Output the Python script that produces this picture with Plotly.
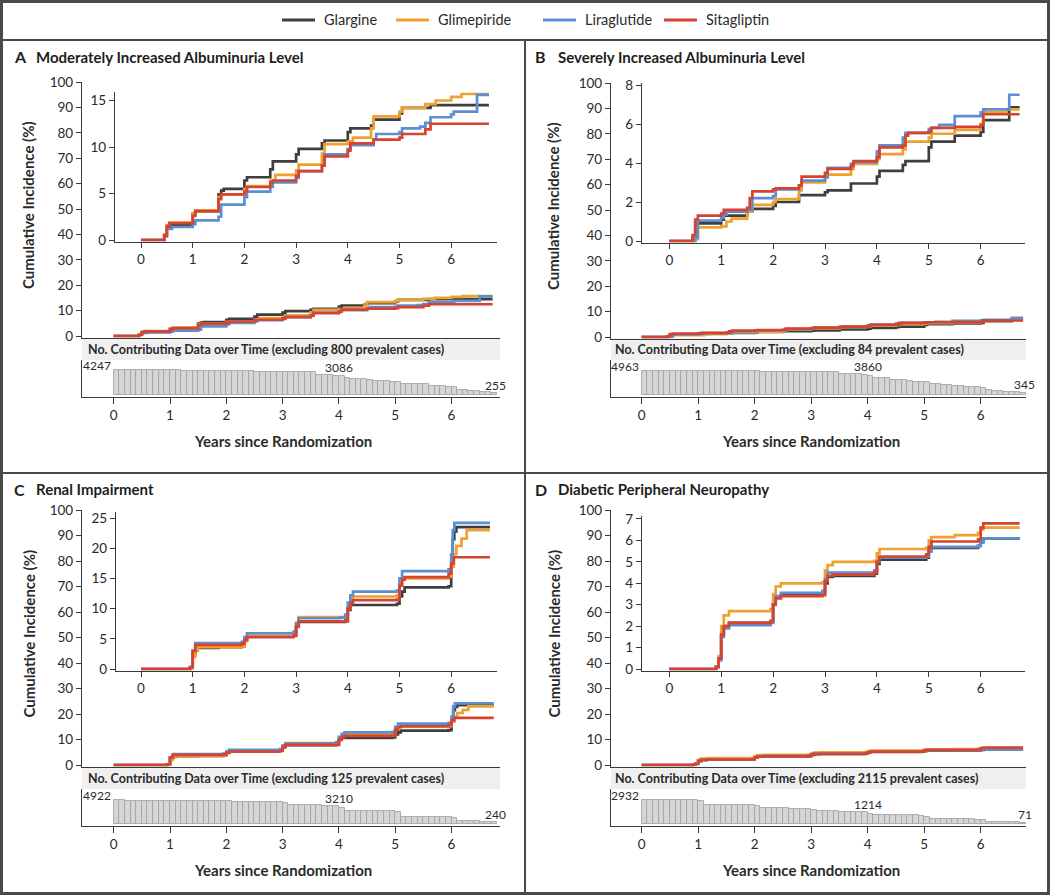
import plotly.graph_objects as go

# ---------------- DATA ----------------
SERIES = ["Glargine", "Glimepiride", "Liraglutide", "Sitagliptin"]
SERIES_COLORS = ["#3e3e3e", "#eea12e", "#5b8fd1", "#d8432f"]

PANEL_KEYS = ["A", "B", "C", "D"]
PANEL_TITLES = [
    "Moderately Increased Albuminuria Level",
    "Severely Increased Albuminuria Level",
    "Renal Impairment",
    "Diabetic Peripheral Neuropathy",
]
PREVALENT_CASES = [800, 84, 125, 2115]

X_TICKS = [0, 1, 2, 3, 4, 5, 6]
MAIN_Y_TICKS = [0, 10, 20, 30, 40, 50, 60, 70, 80, 90, 100]
INSET_Y_TICKS_A = [0, 5, 10, 15]
INSET_Y_TICKS_B = [0, 2, 4, 6, 8]
INSET_Y_TICKS_C = [0, 5, 10, 15, 20, 25]
INSET_Y_TICKS_D = [0, 1, 2, 3, 4, 5, 6, 7]

BAR_YEARS = [0.0, 0.1, 0.2, 0.3, 0.4, 0.5, 0.6, 0.7, 0.8, 0.9,
             1.0, 1.1, 1.2, 1.3, 1.4, 1.5, 1.6, 1.7, 1.8, 1.9,
             2.0, 2.1, 2.2, 2.3, 2.4, 2.5, 2.6, 2.7, 2.8, 2.9,
             3.0, 3.1, 3.2, 3.3, 3.4, 3.5, 3.6, 3.7, 3.8, 3.9,
             4.0, 4.1, 4.2, 4.3, 4.4, 4.5, 4.6, 4.7, 4.8, 4.9,
             5.0, 5.1, 5.2, 5.3, 5.4, 5.5, 5.6, 5.7, 5.8, 5.9,
             6.0, 6.1, 6.2, 6.3, 6.4, 6.5, 6.6, 6.7]

BARS_A = [4247, 4230, 4215, 4200, 4185, 4170, 4155, 4140, 4125, 4110,
          4095, 4080, 4065, 4050, 4035, 4020, 4005, 3990, 3975, 3960,
          3950, 3940, 3930, 3920, 3910, 3900, 3890, 3880, 3870, 3860,
          3850, 3840, 3830, 3820, 3810, 3800, 3350, 3300, 3250, 3200,
          3086, 2750, 2700, 2650, 2600, 2400, 2350, 2300, 2250, 2200,
          2150, 1800, 1780, 1760, 1740, 1720, 1400, 1380, 1360, 1340,
          1280, 800, 780, 600, 580, 450, 430, 255]
BARS_B = [4963, 4950, 4940, 4930, 4920, 4910, 4900, 4890, 4880, 4870,
          4860, 4850, 4840, 4830, 4820, 4810, 4800, 4790, 4780, 4770,
          4760, 4750, 4745, 4740, 4735, 4730, 4725, 4720, 4715, 4710,
          4700, 4690, 4680, 4670, 4660, 4300, 4250, 4200, 4150, 4100,
          3860, 3450, 3400, 3350, 3100, 3050, 3000, 2700, 2650, 2600,
          2550, 2100, 2070, 2040, 2000, 1700, 1660, 1620, 1580, 1540,
          1300, 850, 820, 790, 560, 530, 500, 345]
BARS_C = [4922, 4720, 4715, 4710, 4705, 4700, 4695, 4690, 4685, 4680,
          4660, 4640, 4635, 4630, 4625, 4620, 4615, 4610, 4605, 4600,
          4520, 4400, 4395, 4390, 4385, 4380, 4375, 4370, 4365, 4360,
          4200, 3750, 3740, 3730, 3720, 3710, 3700, 3690, 3680, 3600,
          3210, 2550, 2540, 2530, 2520, 2510, 2500, 2490, 2480, 2470,
          2400, 1350, 1340, 1330, 1320, 1310, 1300, 1290, 1280, 1270,
          1060, 540, 530, 520, 510, 340, 320, 240]
BARS_D = [2932, 2930, 2928, 2926, 2924, 2922, 2920, 2918, 2916, 2914,
          2720, 2320, 2310, 2300, 2290, 2280, 2270, 2260, 2250, 2240,
          2100, 1880, 1870, 1860, 1850, 1840, 1830, 1820, 1810, 1800,
          1650, 1500, 1490, 1480, 1470, 1460, 1450, 1440, 1430, 1420,
          1214, 1050, 1040, 1030, 1020, 1010, 1000, 990, 980, 970,
          830, 560, 550, 540, 530, 520, 510, 500, 490, 480,
          400, 230, 220, 210, 200, 190, 180, 71]

# Panel A: moderately increased albuminuria (cumulative incidence, %)
A_GLARGINE_T = [0, 0.45, 0.5, 0.6, 1.0, 1.05, 1.5, 1.55, 1.6, 2.0, 2.05, 2.5, 2.55, 3.0, 3.05, 3.5, 3.55, 4.0, 4.05, 4.45, 4.5, 5.0, 5.05, 5.6, 6.73]
A_GLARGINE_V = [0, 0.5, 1.4, 1.6, 2.8, 3.1, 4.9, 5.3, 5.5, 6.4, 6.75, 7.6, 8.45, 9.2, 9.8, 10.4, 10.7, 11.6, 12.0, 12.3, 12.95, 13.6, 14.2, 14.5, 14.5]
A_GLIMEPIRIDE_T = [0, 0.45, 0.5, 0.55, 1.0, 1.05, 1.5, 1.55, 2.0, 2.05, 2.5, 2.6, 3.0, 3.05, 3.5, 3.55, 4.0, 4.1, 4.45, 4.5, 5.0, 5.05, 5.5, 5.7, 6.0, 6.2, 6.73]
A_GLIMEPIRIDE_V = [0, 0.6, 1.6, 1.9, 2.9, 3.2, 4.6, 4.9, 5.5, 5.8, 6.4, 7.0, 7.5, 8.1, 9.3, 10.3, 10.6, 11.0, 12.0, 13.3, 13.8, 14.2, 14.6, 15.0, 15.4, 15.7, 15.7]
A_LIRAGLUTIDE_T = [0, 0.45, 0.5, 0.6, 1.0, 1.05, 1.5, 1.55, 2.0, 2.05, 2.5, 2.55, 3.0, 3.05, 3.5, 3.55, 4.0, 4.05, 4.5, 4.55, 5.0, 5.05, 5.4, 5.5, 5.6, 6.0, 6.05, 6.5, 6.73]
A_LIRAGLUTIDE_V = [0, 0.4, 1.2, 1.4, 1.7, 2.1, 2.5, 3.8, 4.6, 5.2, 5.7, 6.2, 6.7, 7.4, 8.0, 9.2, 9.8, 10.2, 10.8, 11.4, 11.6, 12.0, 12.2, 12.6, 13.2, 13.5, 13.8, 15.6, 15.6]
A_SITAGLIPTIN_T = [0, 0.45, 0.5, 0.55, 1.0, 1.05, 1.5, 1.55, 2.0, 2.05, 2.5, 2.55, 3.0, 3.05, 3.5, 3.55, 4.0, 4.05, 4.5, 5.0, 5.05, 5.5, 5.6, 6.73]
A_SITAGLIPTIN_V = [0, 0.5, 1.5, 1.8, 2.6, 3.1, 4.4, 4.9, 5.2, 5.7, 6.2, 6.4, 6.9, 7.4, 8.0, 9.0, 9.6, 10.4, 10.8, 11.0, 11.4, 11.9, 12.5, 12.5]

# Panel B: severely increased albuminuria
B_GLARGINE_T = [0, 0.45, 0.5, 1.0, 1.05, 1.5, 1.6, 2.0, 2.05, 2.5, 3.0, 3.05, 3.5, 4.0, 4.05, 4.5, 4.55, 5.0, 5.05, 5.5, 6.0, 6.05, 6.55, 6.75]
B_GLARGINE_V = [0, 0.2, 0.9, 1.1, 1.3, 1.5, 1.65, 1.8, 2.0, 2.35, 2.5, 2.6, 2.95, 3.3, 3.6, 3.9, 4.1, 4.8, 5.1, 5.4, 5.6, 6.2, 6.85, 6.85]
B_GLIMEPIRIDE_T = [0, 0.5, 0.55, 1.0, 1.1, 1.2, 1.5, 1.6, 2.0, 2.05, 2.5, 2.55, 3.0, 3.05, 3.5, 3.55, 4.0, 4.05, 4.5, 4.55, 5.0, 5.05, 5.5, 6.0, 6.05, 6.5, 6.75]
B_GLIMEPIRIDE_V = [0, 0.1, 0.7, 0.75, 1.0, 1.15, 1.5, 1.85, 2.0, 2.15, 2.6, 3.0, 3.25, 3.4, 3.7, 3.95, 4.2, 4.45, 4.7, 5.1, 5.3, 5.5, 5.7, 6.0, 6.6, 6.75, 6.75]
B_LIRAGLUTIDE_T = [0, 0.5, 0.55, 1.0, 1.05, 1.1, 1.5, 1.6, 2.0, 2.05, 2.5, 2.55, 3.0, 3.05, 3.5, 3.55, 4.0, 4.05, 4.5, 4.55, 5.0, 5.05, 5.2, 5.5, 6.0, 6.05, 6.55, 6.75]
B_LIRAGLUTIDE_V = [0, 0.2, 1.05, 1.2, 1.35, 1.5, 1.6, 2.2, 2.3, 2.65, 2.85, 3.1, 3.3, 3.75, 3.95, 4.05, 4.6, 4.9, 5.3, 5.55, 5.75, 5.8, 5.95, 6.4, 6.6, 6.75, 7.5, 7.5]
B_SITAGLIPTIN_T = [0, 0.45, 0.5, 0.55, 1.0, 1.05, 1.5, 1.55, 1.6, 2.0, 2.05, 2.5, 2.55, 3.0, 3.05, 3.5, 3.55, 4.0, 4.05, 4.5, 4.55, 4.6, 5.0, 5.05, 5.5, 6.0, 6.05, 6.75]
B_SITAGLIPTIN_V = [0, 0.3, 1.1, 1.3, 1.4, 1.6, 1.7, 2.2, 2.55, 2.65, 2.7, 2.85, 3.3, 3.5, 3.7, 3.85, 4.1, 4.3, 4.8, 4.9, 5.4, 5.55, 5.6, 5.8, 5.85, 5.95, 6.5, 6.5]

# Panel C: renal impairment
C_GLARGINE_T = [0, 0.95, 1.0, 1.05, 1.5, 1.95, 2.0, 2.05, 2.95, 3.0, 3.05, 3.95, 4.0, 4.05, 4.95, 5.0, 5.05, 5.1, 5.95, 6.0, 6.03, 6.06, 6.1, 6.75]
C_GLARGINE_V = [0, 0.2, 2.5, 3.5, 3.6, 3.8, 4.8, 5.3, 5.6, 7.0, 7.8, 8.0, 9.8, 10.6, 10.8, 12.0, 12.8, 13.5, 13.7, 17.0, 21.5, 22.8, 23.5, 23.5]
C_GLIMEPIRIDE_T = [0, 0.95, 1.0, 1.05, 1.1, 1.95, 2.0, 2.05, 2.95, 3.0, 3.05, 3.95, 4.0, 4.05, 4.1, 4.95, 5.0, 5.05, 5.95, 6.0, 6.05, 6.1, 6.2, 6.3, 6.75]
C_GLIMEPIRIDE_V = [0, 0.2, 2.0, 3.0, 3.6, 3.8, 4.6, 5.4, 5.6, 7.6, 8.6, 8.7, 10.0, 11.2, 12.0, 12.2, 14.0, 15.0, 15.3, 17.0, 19.0, 20.4, 21.6, 23.0, 23.0]
C_LIRAGLUTIDE_T = [0, 0.95, 1.0, 1.05, 1.95, 2.0, 2.05, 2.95, 3.0, 3.05, 3.85, 3.95, 4.0, 4.05, 4.1, 4.95, 5.0, 5.05, 5.95, 6.0, 6.03, 6.06, 6.75]
C_LIRAGLUTIDE_V = [0, 0.3, 3.0, 4.3, 4.5, 5.3, 5.9, 6.2, 7.6, 8.4, 8.5, 9.0, 11.0, 12.2, 12.8, 13.0, 15.0, 16.2, 16.5, 19.0, 23.0, 24.2, 24.2]
C_SITAGLIPTIN_T = [0, 0.95, 1.0, 1.05, 1.95, 2.0, 2.05, 2.95, 3.0, 3.05, 3.95, 4.0, 4.05, 4.1, 4.95, 5.0, 5.05, 5.1, 5.95, 6.0, 6.05, 6.75]
C_SITAGLIPTIN_V = [0, 0.3, 3.0, 4.0, 4.2, 4.8, 5.3, 5.5, 7.0, 7.9, 7.9, 10.0, 10.9, 11.4, 11.5, 13.8, 14.8, 15.2, 15.8, 17.5, 18.5, 18.5]

# Panel D: diabetic peripheral neuropathy
D_GLARGINE_T = [0, 0.9, 0.95, 1.0, 1.05, 1.15, 1.95, 2.0, 2.05, 2.15, 2.95, 3.0, 3.05, 3.15, 3.95, 4.0, 4.05, 4.95, 5.0, 5.05, 5.95, 6.0, 6.05, 6.75]
D_GLARGINE_V = [0, 0.1, 0.5, 1.6, 2.0, 2.15, 2.2, 3.0, 3.35, 3.45, 3.5, 4.0, 4.3, 4.35, 4.45, 4.9, 5.1, 5.2, 5.5, 5.65, 5.75, 5.95, 6.1, 6.1]
D_GLIMEPIRIDE_T = [0, 0.9, 0.95, 1.0, 1.05, 1.15, 1.95, 2.0, 2.05, 2.15, 2.95, 3.0, 3.05, 3.15, 3.95, 4.0, 4.05, 4.95, 5.0, 5.05, 5.5, 5.95, 6.0, 6.05, 6.75]
D_GLIMEPIRIDE_V = [0, 0.1, 0.6, 2.0, 2.5, 2.7, 2.8, 3.5, 3.85, 4.0, 4.05, 4.6, 4.85, 5.0, 5.05, 5.4, 5.6, 5.65, 6.0, 6.15, 6.25, 6.35, 6.5, 6.6, 6.6]
D_LIRAGLUTIDE_T = [0, 0.9, 0.95, 1.0, 1.05, 1.15, 1.95, 2.0, 2.05, 2.15, 2.95, 3.0, 3.05, 3.95, 4.0, 4.05, 4.95, 5.0, 5.05, 5.95, 6.0, 6.05, 6.75]
D_LIRAGLUTIDE_V = [0, 0.1, 0.4, 1.5, 1.9, 2.05, 2.15, 3.0, 3.4, 3.55, 3.65, 4.2, 4.5, 4.6, 5.0, 5.2, 5.25, 5.5, 5.7, 5.75, 5.9, 6.1, 6.1]
D_SITAGLIPTIN_T = [0, 0.9, 0.95, 1.0, 1.05, 1.15, 1.95, 2.0, 2.05, 2.15, 2.95, 3.0, 3.05, 3.15, 3.95, 4.0, 4.05, 4.95, 5.0, 5.05, 5.95, 6.0, 6.05, 6.75]
D_SITAGLIPTIN_V = [0, 0.1, 0.5, 1.6, 2.0, 2.15, 2.25, 3.0, 3.3, 3.4, 3.45, 4.1, 4.35, 4.4, 4.5, 5.0, 5.25, 5.35, 5.7, 5.95, 6.05, 6.6, 6.8, 6.8]

CURVES = {
    "A": [(A_GLARGINE_T, A_GLARGINE_V), (A_GLIMEPIRIDE_T, A_GLIMEPIRIDE_V),
          (A_LIRAGLUTIDE_T, A_LIRAGLUTIDE_V), (A_SITAGLIPTIN_T, A_SITAGLIPTIN_V)],
    "B": [(B_GLARGINE_T, B_GLARGINE_V), (B_GLIMEPIRIDE_T, B_GLIMEPIRIDE_V),
          (B_LIRAGLUTIDE_T, B_LIRAGLUTIDE_V), (B_SITAGLIPTIN_T, B_SITAGLIPTIN_V)],
    "C": [(C_GLARGINE_T, C_GLARGINE_V), (C_GLIMEPIRIDE_T, C_GLIMEPIRIDE_V),
          (C_LIRAGLUTIDE_T, C_LIRAGLUTIDE_V), (C_SITAGLIPTIN_T, C_SITAGLIPTIN_V)],
    "D": [(D_GLARGINE_T, D_GLARGINE_V), (D_GLIMEPIRIDE_T, D_GLIMEPIRIDE_V),
          (D_LIRAGLUTIDE_T, D_LIRAGLUTIDE_V), (D_SITAGLIPTIN_T, D_SITAGLIPTIN_V)],
}
BARS = {"A": BARS_A, "B": BARS_B, "C": BARS_C, "D": BARS_D}
INSET_TICKS = {"A": INSET_Y_TICKS_A, "B": INSET_Y_TICKS_B, "C": INSET_Y_TICKS_C, "D": INSET_Y_TICKS_D}

# ---------------- LAYOUT GEOMETRY (pixels) ----------------
W, H = 1050, 895
FONT = "Lato, 'Open Sans', sans-serif"
AX_COLOR = "#3a3a3a"
TXT = "#2a2a2a"
LEGEND_LINE_X = [282, 396, 543, 664]   # left end of each legend line sample
LEGEND_Y = 20

GEOM = {
    "A": dict(left=82, right=500, x0=113.7, sx=56.3, mtop=82, mbot=336,
              ileft=115, iright=497, ix0=141, isx=51.7, itop=92, ibot=240, ipx=9.3,
              band_top=336, band_bot=360, baxis=397, bbase=394.5, bref=25,
              letter_x=12, title_x=34, title_y=57, ytitle_x=28, xtitle_x=283, xtitle_y=441, band_x=86),
    "B": dict(left=611, right=1026, x0=641.7, sx=56.5, mtop=83, mbot=337,
              ileft=642, iright=1025, ix0=669.3, isx=51.9, itop=83, ibot=241, ipx=19.5,
              band_top=337, band_bot=360, baxis=397, bbase=394.5, bref=24,
              letter_x=533, title_x=556, title_y=57, ytitle_x=553, xtitle_x=811, xtitle_y=441, band_x=613),
    "C": dict(left=82, right=500, x0=113.7, sx=56.3, mtop=510, mbot=765,
              ileft=116, iright=497, ix0=141, isx=51.7, itop=512, ibot=669, ipx=6.04,
              band_top=765, band_bot=789, baxis=826, bbase=823.5, bref=24,
              letter_x=12, title_x=34, title_y=489, ytitle_x=28, xtitle_x=283, xtitle_y=870, band_x=86),
    "D": dict(left=611, right=1026, x0=641.7, sx=56.5, mtop=510, mbot=765,
              ileft=642, iright=1025, ix0=669.3, isx=51.9, itop=516, ibot=669, ipx=21.43,
              band_top=765, band_bot=789, baxis=826, bbase=823.5, bref=24,
              letter_x=533, title_x=556, title_y=489, ytitle_x=553, xtitle_x=811, xtitle_y=870, band_x=613),
}


def xp(px):
    return px / W


def yp(py):
    return 1 - py / H


fig = go.Figure()
layout = {}
annotations = []
shapes = []

axis_common = dict(showgrid=False, zeroline=False, linecolor=AX_COLOR, linewidth=1.3,
                   tickcolor=AX_COLOR, tickwidth=1.2, layer="below traces",
                   tickfont=dict(family=FONT, size=13.5, color=TXT))


def axname(c, n):
    return f"{c}axis" if n == 1 else f"{c}axis{n}"


for i, key in enumerate(PANEL_KEYS):
    g = GEOM[key]
    n_main, n_in, n_bar = 3 * i + 1, 3 * i + 2, 3 * i + 3

    # main axes
    mscale = (g["mbot"] - g["mtop"]) / 100.0
    layout[axname("x", n_main)] = dict(
        axis_common, domain=[xp(g["left"]), xp(g["right"])],
        range=[(g["left"] - g["x0"]) / g["sx"], (g["right"] - g["x0"]) / g["sx"]],
        anchor=f"y{n_main}", showline=True, ticks="", showticklabels=False)
    layout[axname("y", n_main)] = dict(
        axis_common, domain=[yp(g["mbot"] + 1.5), yp(g["mtop"])],
        range=[-1.5 / mscale, 100], anchor=f"x{n_main}", showline=True,
        ticks="outside", ticklen=5, tickvals=MAIN_Y_TICKS)

    # inset axes
    layout[axname("x", n_in)] = dict(
        axis_common, domain=[xp(g["ileft"]), xp(g["iright"])],
        range=[(g["ileft"] - g["ix0"]) / g["isx"], (g["iright"] - g["ix0"]) / g["isx"]],
        anchor=f"y{n_in}", showline=True, ticks="outside", ticklen=5, tickvals=X_TICKS)
    layout[axname("y", n_in)] = dict(
        axis_common, domain=[yp(g["ibot"] + 1.5), yp(g["itop"])],
        range=[-1.5 / g["ipx"], (g["ibot"] - g["itop"]) / g["ipx"]],
        anchor=f"x{n_in}", showline=True, ticks="outside", ticklen=5,
        tickvals=INSET_TICKS[key])

    # bar axes
    bars = BARS[key]
    k = bars[0] / g["bref"]
    layout[axname("x", n_bar)] = dict(
        axis_common, domain=[xp(g["left"]), xp(g["right"])],
        range=[(g["left"] - g["x0"]) / g["sx"], (g["right"] - g["x0"]) / g["sx"]],
        anchor=f"y{n_bar}", showline=True, ticks="outside", ticklen=6, tickvals=X_TICKS)
    layout[axname("y", n_bar)] = dict(
        axis_common, domain=[yp(g["baxis"]), yp(g["band_bot"])],
        range=[-(g["baxis"] - g["bbase"]) * k, (g["bbase"] - g["band_bot"]) * k],
        anchor=f"x{n_bar}", showline=True, ticks="", showticklabels=False)

    # curves (main and inset)
    for s, (name, color) in enumerate(zip(SERIES, SERIES_COLORS)):
        t, v = CURVES[key][s]
        for n in (n_main, n_in):
            fig.add_trace(go.Scatter(
                x=t, y=v, mode="lines", name=name, legendgroup=name, showlegend=False,
                line=dict(color=color, width=2.7, shape="hv"),
                xaxis=f"x{n}", yaxis=f"y{n}", hoverinfo="skip"))

    # bars of contributing data
    fig.add_trace(go.Bar(
        x=BAR_YEARS, y=bars, width=0.1, offset=0, showlegend=False,
        marker=dict(color="#d6d6d8", line=dict(color="#a4a4a6", width=0.9)),
        xaxis=f"x{n_bar}", yaxis=f"y{n_bar}", hoverinfo="skip"))

    # grey label band
    shapes.append(dict(type="rect", xref="paper", yref="paper", layer="below",
                       x0=xp(g["left"]), x1=xp(g["right"]),
                       y0=yp(g["band_bot"]), y1=yp(g["band_top"] + 1.5),
                       fillcolor="#efeff0", line=dict(width=0)))
    annotations.append(dict(
        xref="paper", yref="paper", x=xp(g["band_x"]),
        y=yp((g["band_top"] + g["band_bot"]) / 2 + 1), xanchor="left", yanchor="middle",
        showarrow=False,
        text=f"<b>No. Contributing Data over Time (excluding {PREVALENT_CASES[i]} prevalent cases)</b>",
        font=dict(family=FONT, size=12.5, color=TXT)))

    # bar value labels
    bx, by = f"x{n_bar}", f"y{n_bar}"
    annotations.append(dict(xref=bx, yref=by, x=BAR_YEARS[0], y=bars[0], xanchor="right",
                            yanchor="middle", yshift=4, xshift=-1, showarrow=False,
                            text=str(bars[0]), font=dict(family=FONT, size=12, color=TXT)))
    annotations.append(dict(xref=bx, yref=by, x=BAR_YEARS[40], y=bars[40], xanchor="center",
                            yanchor="middle", yshift=9, showarrow=False,
                            text=str(bars[40]), font=dict(family=FONT, size=12, color=TXT)))
    annotations.append(dict(xref=bx, yref=by, x=BAR_YEARS[-1] + 0.08, y=bars[-1], xanchor="center",
                            yanchor="middle", yshift=8, showarrow=False,
                            text=str(bars[-1]), font=dict(family=FONT, size=12, color=TXT)))

    # titles
    annotations.append(dict(xref="paper", yref="paper", x=xp(g["letter_x"]), y=yp(g["title_y"]),
                            xanchor="left", yanchor="middle", showarrow=False, text=f"<b>{key}</b>",
                            font=dict(family=FONT, size=16, color="#1e1e1e")))
    annotations.append(dict(xref="paper", yref="paper", x=xp(g["title_x"]), y=yp(g["title_y"]),
                            xanchor="left", yanchor="middle", showarrow=False,
                            text=f"<b>{PANEL_TITLES[i]}</b>",
                            font=dict(family=FONT, size=15, color="#1e1e1e")))
    annotations.append(dict(xref="paper", yref="paper", x=xp(g["ytitle_x"]),
                            y=yp((g["mtop"] + g["mbot"]) / 2 - 4), textangle=-90,
                            xanchor="center", yanchor="middle", showarrow=False,
                            text="<b>Cumulative Incidence (%)</b>",
                            font=dict(family=FONT, size=15, color=TXT)))
    annotations.append(dict(xref="paper", yref="paper", x=xp(g["xtitle_x"]), y=yp(g["xtitle_y"]),
                            xanchor="center", yanchor="middle", showarrow=False,
                            text="<b>Years since Randomization</b>",
                            font=dict(family=FONT, size=15, color=TXT)))

# legend (drawn as line samples + labels)
for name, color, lx in zip(SERIES, SERIES_COLORS, LEGEND_LINE_X):
    shapes.append(dict(type="line", xref="paper", yref="paper", x0=xp(lx), x1=xp(lx + 33),
                       y0=yp(LEGEND_Y), y1=yp(LEGEND_Y), line=dict(color=color, width=2.8)))
    annotations.append(dict(xref="paper", yref="paper", x=xp(lx + 40), y=yp(LEGEND_Y),
                            xanchor="left", yanchor="middle", showarrow=False, text=name,
                            font=dict(family=FONT, size=14.5, color=TXT)))

# frame lines
FRAME = "#4a4a4a"
shapes.append(dict(type="rect", xref="paper", yref="paper", x0=xp(1.5), x1=xp(1048.5),
                   y0=yp(893.5), y1=yp(1.5), line=dict(color=FRAME, width=3), layer="above"))
shapes.append(dict(type="line", xref="paper", yref="paper", x0=0, x1=1, y0=yp(40), y1=yp(40),
                   line=dict(color=FRAME, width=2)))
shapes.append(dict(type="line", xref="paper", yref="paper", x0=0, x1=1, y0=yp(473), y1=yp(473),
                   line=dict(color=FRAME, width=2)))
shapes.append(dict(type="line", xref="paper", yref="paper", x0=xp(525), x1=xp(525), y0=0, y1=yp(40),
                   line=dict(color=FRAME, width=2)))

fig.update_layout(
    width=W, height=H, margin=dict(l=0, r=0, t=0, b=0, autoexpand=False),
    paper_bgcolor="white", plot_bgcolor="rgba(0,0,0,0)",
    font=dict(family=FONT, color=TXT),
    showlegend=False,
    bargap=0,
    annotations=annotations, shapes=shapes,
    **layout)

fig.write_html(
    "out.html",
    config={"displayModeBar": False},
    post_script="document.body.style.margin='0';document.body.style.overflow='hidden';",
)
